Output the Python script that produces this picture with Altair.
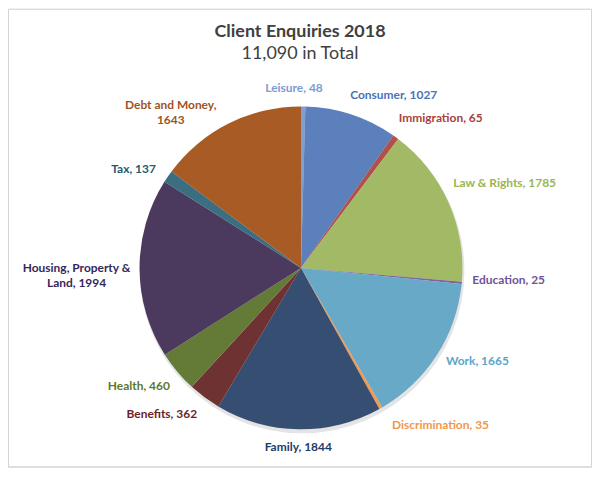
import math
import altair as alt
import pandas as pd

# ---- data ----
categories = ["Leisure", "Consumer", "Immigration", "Law & Rights", "Education",
              "Work", "Discrimination", "Family", "Benefits", "Health",
              "Housing, Property & Land", "Tax", "Debt and Money"]
values = [48, 1027, 65, 1785, 25, 1665, 35, 1844, 362, 460, 1994, 137, 1643]
slice_colors = ["#7F9FD3", "#5B80BC", "#B24F4A", "#A2BA66", "#8064A2",
                "#68A9C7", "#F39A4E", "#374E73", "#6E3232", "#647B38",
                "#4B3A5E", "#3B6E80", "#A85B24"]
label_colors = ["#7B9CD1", "#4A72B8", "#A9403D", "#99B555", "#6E529A",
                "#5AA5C8", "#F0984A", "#233A66", "#6B1F1F", "#5E772A",
                "#35275A", "#245A6E", "#A0521E"]

# ---- styling / layout settings ----
W, H = 586, 460
CX, CY, R = 294, 260, 162
FONT = "Lato"
wrap = {"Housing, Property & Land": ("Housing, Property &", "Land"),
        "Debt and Money": ("Debt and Money,", "")}
# Excel-style manual label nudges (degrees) to avoid crowding
nudge = {"Leisure": -3, "Consumer": 10, "Immigration": 7, "Law & Rights": 1.5,
         "Education": -2, "Work": -5, "Discrimination": -12, "Benefits": 7,
         "Health": 4, "Tax": -4, "Debt and Money": -12}

total = sum(values)
rows = []
cum = 0
for i, (c, v) in enumerate(zip(categories, values)):
    mid = (cum + v / 2) / total * 360
    cum += v
    if c in wrap:
        a, b = wrap[c]
        label = f"{a}\n{b + ', ' if b else ''}{v}"
    else:
        label = f"{c}, {v}"
    lines = label.split("\n")
    w = max(len(s) for s in lines) * 5.6
    h = len(lines) * 14
    ang = mid + nudge.get(c, 0)
    rad = math.radians(ang)
    lr = R + 10 + abs(math.sin(rad)) * w / 2 + abs(math.cos(rad)) * h / 2
    rows.append({"category": c, "value": v, "order": i, "label": label,
                 "label_deg": ang, "label_r": lr})
df = pd.DataFrame(rows)
frame_df = pd.DataFrame({"frame": [0]})

base = alt.Chart(df)

border = alt.Chart(frame_df).mark_rect(
    fill="white", stroke="#d4d4d4", strokeWidth=1
).encode(
    x=alt.value(0.5), x2=alt.value(W - 0.5),
    y=alt.value(0.5), y2=alt.value(H - 0.5),
)

shadow = alt.Chart(frame_df).mark_arc(
    outerRadius=R + 1, x=CX + 1, y=CY + 3, color="#e4e4e4"
).encode(theta=alt.value(0), theta2=alt.value(2 * math.pi))

pie = base.mark_arc(outerRadius=R, x=CX, y=CY).encode(
    theta=alt.Theta("value:Q", stack=True),
    color=alt.Color("category:N",
                    scale=alt.Scale(domain=categories, range=slice_colors),
                    legend=None),
    order=alt.Order("order:Q"),
)

labels = base.mark_text(
    align="center", baseline="middle", lineBreak="\n", font=FONT,
    fontWeight="bold", fontSize=12, x=CX, y=CY, lineHeight=15,
).encode(
    theta=alt.Theta("label_deg:Q", stack=False,
                    scale=alt.Scale(domain=[0, 360], range=[0, 2 * math.pi])),
    radius=alt.Radius("label_r:Q", scale=None),
    text="label:N",
    color=alt.Color("category:N",
                    scale=alt.Scale(domain=categories, range=label_colors),
                    legend=None),
)

chart = alt.layer(border, shadow, pie, labels).resolve_scale(
    theta="independent", color="independent", radius="independent"
).properties(
    width=W, height=H,
    autosize=alt.AutoSizeParams(type="none"),
    padding=0,
    title=alt.TitleParams(
        text="Client Enquiries 2018", subtitle="11,090 in Total",
        anchor="middle", orient="top", offset=-54,
        font=FONT, fontSize=18, fontWeight="bold", color="#404040",
        subtitleFont=FONT, subtitleFontSize=18, subtitleFontWeight="normal",
        subtitleColor="#404040", subtitlePadding=4,
    ),
).configure_view(stroke=None).configure(background="white")

chart.save("out.html", embed_options={"renderer": "svg", "actions": False})
